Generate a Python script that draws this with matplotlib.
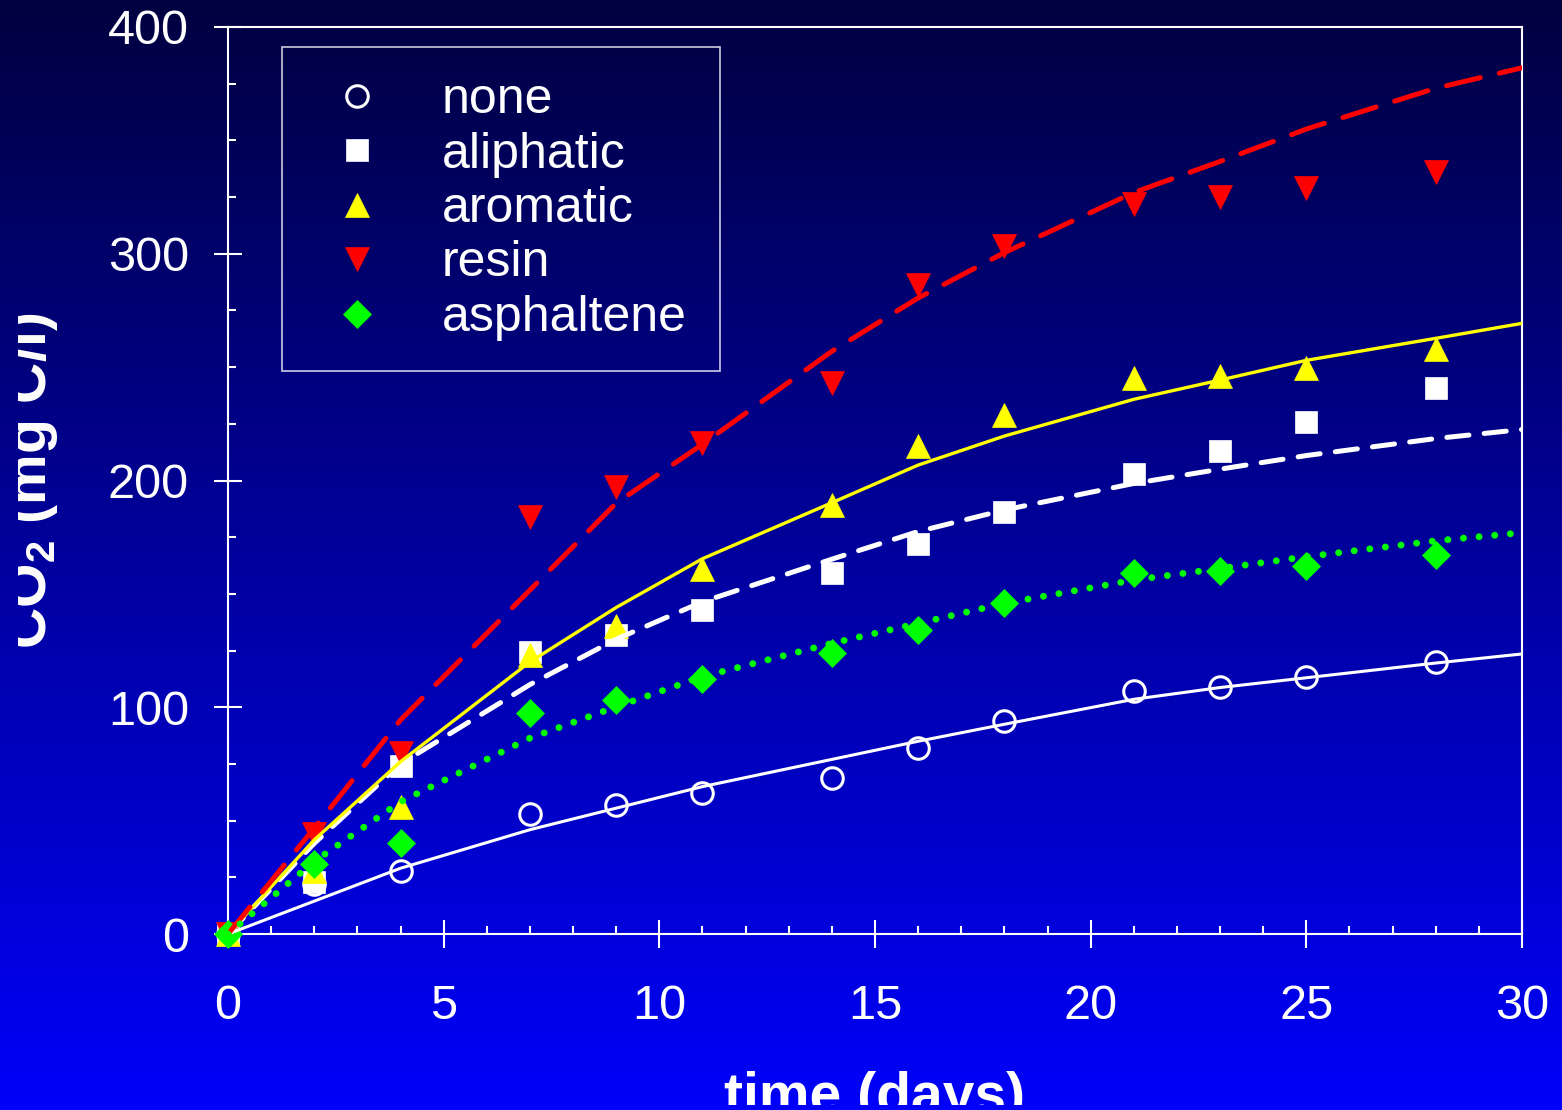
import numpy as np
import matplotlib
matplotlib.use('Agg')
import matplotlib.pyplot as plt
from matplotlib.ticker import MultipleLocator
from matplotlib.transforms import Bbox, TransformedBbox

plt.rcParams['font.family'] = ['Liberation Sans', 'DejaVu Sans']
plt.rcParams['mathtext.default'] = 'regular'
plt.rcParams['lines.scale_dashes'] = False

# ---------------- data ----------------
days = [0, 2, 4, 7, 9, 11, 14, 16, 18, 21, 23, 25, 28]
none_vals = [0, 22, 28, 53, 57, 62, 69, 82, 94, 107, 109, 113.5, 120]
aliphatic_vals = [0, 23, 74, 124.5, 132, 143, 159, 172, 186, 203, 213, 226, 241]
aromatic_vals = [0, 28, 56, 123, 136, 161, 189, 215, 229, 245, 246, 249.5, 258]
resin_vals = [0, 44, 80, 184, 197, 216.5, 243, 286, 303.5, 322, 325, 329, 336]
asphaltene_vals = [0, 31, 40, 97.5, 103, 112.5, 124, 134, 146, 159, 160, 162.5, 167]

fit_days = [0, 2, 4, 7, 9, 11, 14, 16, 18, 21, 23, 25, 28, 30]
fit_none = [0, 14.5, 29, 46, 55.5, 65, 77, 85, 92.5, 103.5, 108.7, 113, 119.5, 123.5]
fit_aliphatic = [0, 40, 75, 110, 130, 146.5, 165.3, 177.5, 187, 198.7, 205, 211, 218.5, 222.5]
fit_aromatic = [0, 41.5, 76, 120, 144, 165.5, 190.2, 206.8, 219.6, 235.8, 244.3, 253, 262.7, 269.3]
fit_resin = [0, 46.7, 94.4, 151.7, 190, 216, 257, 280.5, 300.5, 327, 340.7, 355, 373, 382]
fit_asphaltene = [0, 32, 58.3, 86.4, 100.2, 113.5, 128.2, 137, 145.8, 156.1, 161.2, 166.4, 173.4, 177]

labels = ['none', 'aliphatic', 'aromatic', 'resin', 'asphaltene']
x_ticks = [0, 5, 10, 15, 20, 25, 30]
y_ticks = [0, 100, 200, 300, 400]

# ---------------- figure ----------------
W, H = 1562, 1110
fig = plt.figure(figsize=(W / 100, H / 100), dpi=100)

bg = fig.add_axes([0, 0, 1, 1], zorder=-10)
g = np.linspace(0, 1, 512)[:, None, None]
top = np.array([0.0, 0.0, 0.25])
bot = np.array([0.0, 0.0, 0.98])
img = top + (bot - top) * g
bg.imshow(img, aspect='auto', extent=[0, 1, 0, 1], origin='upper')
bg.set_axis_off()

ax = fig.add_axes([228 / W, (H - 934) / H, (1522 - 228) / W, (934 - 27) / H])
ax.set_facecolor('none')

marker_styles = [
    dict(marker='o', ms=15.5, mfc='none', mec='white', mew=2.2),
    dict(marker='s', ms=15.5, mfc='white', mec='white', mew=0.5),
    dict(marker='^', ms=17, mfc='#FFFF00', mec='#FFFF00', mew=0.5),
    dict(marker='v', ms=17, mfc='#FF0000', mec='#FF0000', mew=0.5),
    dict(marker='D', ms=14.5, mfc='#00FF00', mec='#00FF00', mew=0.5),
]
series = [none_vals, aliphatic_vals, aromatic_vals, resin_vals, asphaltene_vals]
handles = []
for vals, st, lab in zip(series, marker_styles, labels):
    h, = ax.plot(days, vals, linestyle='none', label=lab, zorder=3, clip_on=False, **st)
    handles.append(h)

ax.plot(fit_days, fit_none, color='white', lw=2.2, zorder=4)
ax.plot(fit_days, fit_aliphatic, color='white', lw=3.6, dashes=(16, 11),
        dash_capstyle='round', zorder=4)
ax.plot(fit_days, fit_aromatic, color='#FFFF00', lw=2.4, zorder=4)
ax.plot(fit_days, fit_resin, color='#FF0000', lw=3.6, dashes=(25, 14),
        dash_capstyle='round', zorder=4)
ax.plot(fit_days, fit_asphaltene, color='#00FF00', lw=5.0, dashes=(0.01, 11.3),
        dash_capstyle='round', zorder=4)

ax.set_xlim(0, 30)
ax.set_ylim(0, 400)
ax.set_xticks(x_ticks)
ax.set_yticks(y_ticks)
ax.xaxis.set_minor_locator(MultipleLocator(1))
ax.yaxis.set_minor_locator(MultipleLocator(25))

for sp in ax.spines.values():
    sp.set_color('white')
    sp.set_linewidth(1.5)

ax.tick_params(which='major', direction='inout', length=20, width=1.5,
               colors='white', labelsize=35)
ax.tick_params(axis='x', which='major', pad=26)
ax.tick_params(axis='y', which='major', pad=18)
ax.tick_params(which='minor', direction='in', length=6, width=1.5, colors='white')

xl = ax.set_xlabel('time (days)', fontsize=41, fontweight='bold', color='white')
ax.xaxis.set_label_coords(0.5, (934 - 1071) / 907)
yl = ax.set_ylabel('CO$_2$ (mg C/l)', fontsize=41, fontweight='bold', color='white')
ax.yaxis.set_label_coords((60 - 228) / 1294, 0.5)

xl.set_clip_box(TransformedBbox(Bbox.from_extents(0, 5 / H, 1, 1), fig.transFigure))
xl.set_clip_on(True)
yl.set_clip_box(TransformedBbox(Bbox.from_extents(18 / W, 0, 1, 1), fig.transFigure))
yl.set_clip_on(True)

leg = ax.legend(handles, labels, loc='upper left',
                bbox_to_anchor=(282 / W, (H - 366) / H, 438 / W, 319 / H),
                bbox_transform=fig.transFigure, mode='expand', borderaxespad=0,
                frameon=True, fancybox=False, edgecolor='white', facecolor='none',
                fontsize=36, labelcolor='white', borderpad=0.6, labelspacing=0.17,
                handlelength=1.8, handletextpad=0.8, numpoints=1)
leg.get_frame().set_linewidth(1.2)

fig.savefig('out.png', dpi=100)
